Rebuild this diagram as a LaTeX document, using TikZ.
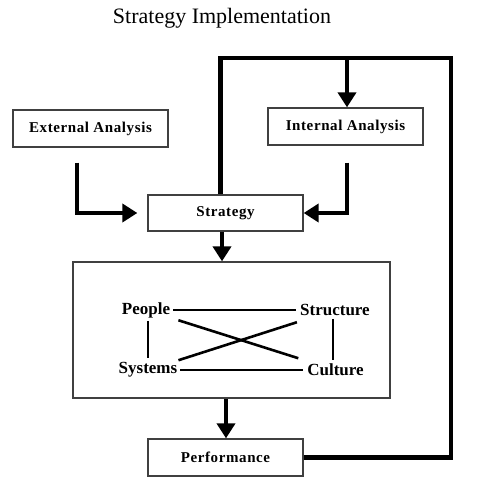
\documentclass[tikz,border=0pt]{standalone}
\usepackage{fontspec}
\setmainfont{Liberation Serif}
\newfontfamily\boxfont[LetterSpace=4]{Liberation Serif}
\usetikzlibrary{arrows.meta,positioning}
\begin{document}
\begin{tikzpicture}[x=1pt,y=-1pt,
  boxn/.style={draw=black!75,line width=1.3pt,rectangle,inner sep=0pt,font=\boxfont\fontsize{15}{17}\selectfont\bfseries},
  thick arrow/.style={line width=4.8pt,-{Triangle[length=15pt,width=18pt]}},
  thick line/.style={line width=4.8pt},
  inner line/.style={line width=2.6pt},
  lab/.style={font=\fontsize{17}{19}\selectfont\bfseries,inner sep=1pt}]
\useasboundingbox (0,0) rectangle (489,497);
\node (title) at (222,18) {\fontsize{22}{24}\selectfont Strategy Implementation};
\node[boxn,minimum width=155pt,minimum height=37pt] (ext) at (90.5,128.5) {External Analysis};
\node[boxn,minimum width=155pt,minimum height=37pt] (int) at (345.5,126.5) {Internal Analysis};
\node[boxn,minimum width=155pt,minimum height=36pt] (strat) at (225.5,213) {Strategy};
\node[boxn,minimum width=317pt,minimum height=136pt] (big) at (231.5,330) {};
\node[boxn,minimum width=155pt,minimum height=37pt] (perf) at (225.5,457.5) {Performance};
\node[lab] (people) at (146,310) {People};
\node[lab] (structure) at (335,310) {Structure};
\node[lab] (systems) at (148,370) {Systems};
\node[lab] (culture) at (335.5,370) {Culture};
% inner connections
\draw[inner line,shorten <=2pt,shorten >=3pt] (people.east) -- (structure.west);
\draw[inner line,shorten <=2pt,shorten >=3pt] (systems.east) -- (culture.west);
\draw[inner line,shorten <=2pt,shorten >=3pt] (systems.north |- people.south) -- (systems.north);
\draw[inner line,shorten <=2pt,shorten >=3pt] ([xshift=-2.5pt]culture.north |- structure.south) -- ([xshift=-2.5pt]culture.north);
\draw[inner line,shorten <=34pt,shorten >=39pt] (people.center) -- (culture.center);
\draw[inner line,shorten <=32pt,shorten >=40pt] (systems.center) -- (structure.center);
% arrows into strategy
\draw[thick arrow] ([xshift=-13.5pt,yshift=-15pt]ext.south) |- ([xshift=-10pt]strat.west);
\draw[thick arrow] ([xshift=1.5pt,yshift=-17pt]int.south) |- (strat.east);
% strategy to big box, big box to performance
\draw[thick arrow] ([xshift=-3.5pt]strat.south) -- ([xshift=-9.5pt]big.north);
\draw[thick arrow] ([xshift=-5.5pt]big.south) -- ([xshift=0.5pt]perf.north);
% feedback loop
\coordinate (tr) at (451,58);
\coordinate (tl) at (220.5,58);
\coordinate (tm) at (347,58);
\draw[thick line] (perf.east) -| (tr) -- (tl) -- (tl |- strat.north);
\draw[thick arrow] (tm) -- (int.north -| tm);
\end{tikzpicture}
\end{document}
